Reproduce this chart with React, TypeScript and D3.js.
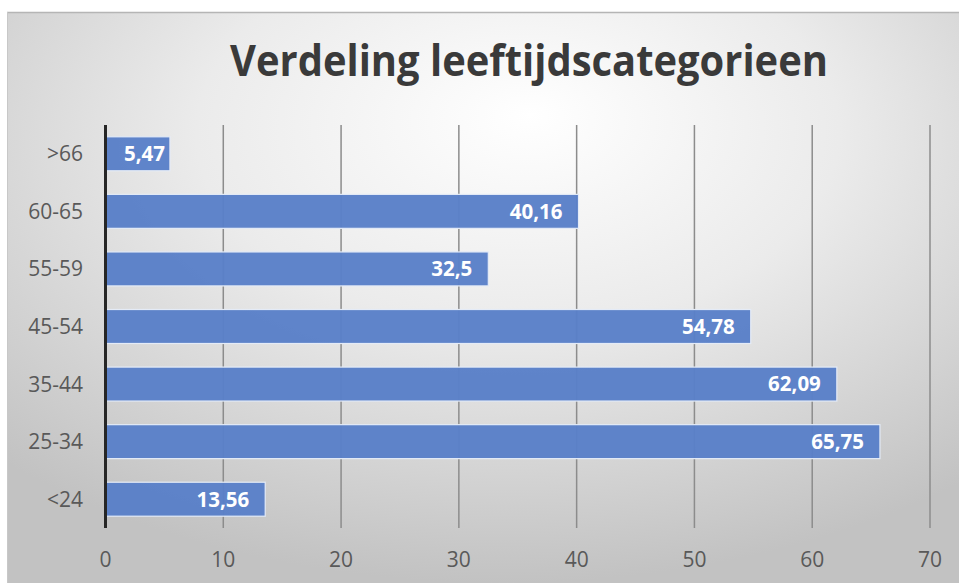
import React from "react";
import * as d3 from "d3";

const categories = [">66", "60-65", "55-59", "45-54", "35-44", "25-34", "<24"];
const values = [5.47, 40.16, 32.5, 54.78, 62.09, 65.75, 13.56];
const xTicks = [0, 10, 20, 30, 40, 50, 60, 70];
const title = "Verdeling leeftijdscategorieen";

const W = 959;
const H = 583;

export default function App() {
  const x = d3.scaleLinear().domain([0, 70]).range([105.5, 930]);
  const y = d3.scaleBand<string>().domain(categories).range([125, 528]).paddingInner(0.41).paddingOuter(0.205);
  const fmt = (v: number) => String(v).replace(".", ",");
  const font = "'Open Sans', 'Noto Sans', sans-serif";

  return (
    <svg width={W} height={H} style={{ position: "absolute", left: 0, top: 0, background: "#fff" }}>
      <defs>
        <radialGradient id="bg" cx="52%" cy="25%" r="75%" fx="55%" fy="18%">
          <stop offset="0%" stopColor="#ffffff" />
          <stop offset="45%" stopColor="#ebebeb" />
          <stop offset="100%" stopColor="#c2c2c2" />
        </radialGradient>
      </defs>
      <rect x={7} y={12} width={W - 7} height={H - 12} fill="url(#bg)" />
      <line x1={7} x2={W} y1={12.5} y2={12.5} stroke="#b5b5b5" strokeWidth={1.5} />
      <line x1={7.5} x2={7.5} y1={12} y2={H} stroke="#c8c8c8" strokeWidth={1} />
      <text
        x={529}
        y={76}
        textAnchor="middle"
        fontFamily={font}
        fontWeight={700}
        fontSize={43}
        fill="#3a3a3a"
        textLength={598}
        lengthAdjust="spacingAndGlyphs"
      >
        {title}
      </text>
      {xTicks.map((t) =>
        t === 0 ? null : (
          <line key={"g" + t} x1={x(t)} x2={x(t)} y1={125} y2={528} stroke="#8c8c8c" strokeWidth={1.5} />
        )
      )}
      {values.map((v, i) => (
        <rect
          key={"b" + i}
          x={x(0)}
          y={y(categories[i])!}
          width={x(v) - x(0)}
          height={y.bandwidth()}
          fill="#5a80c8"
          fillOpacity={0.97}
          stroke="#e4ebf7"
          strokeWidth={1.2}
        />
      ))}
      <line x1={x(0)} x2={x(0)} y1={125} y2={528} stroke="#262626" strokeWidth={3} />
      {values.map((v, i) => {
        const bw = x(v) - x(0);
        const inset = bw < 80 ? 5 : 16;
        return (
          <text
            key={"l" + i}
            x={x(v) - inset}
            y={y(categories[i])! + y.bandwidth() / 2}
            dy="0.36em"
            textAnchor="end"
            fontFamily={font}
            fontWeight={700}
            fontSize={20.5}
            fill="#ffffff"
          >
            {fmt(v)}
          </text>
        );
      })}
      {categories.map((c) => (
        <text
          key={"c" + c}
          x={83}
          y={y(c)! + y.bandwidth() / 2}
          dy="0.36em"
          textAnchor="end"
          fontFamily={font}
          fontSize={21}
          fill="#595959"
        >
          {c}
        </text>
      ))}
      {xTicks.map((t) => (
        <text
          key={"t" + t}
          x={x(t)}
          y={559}
          dy="0.36em"
          textAnchor="middle"
          fontFamily={font}
          fontSize={21}
          fill="#595959"
        >
          {t}
        </text>
      ))}
    </svg>
  );
}
